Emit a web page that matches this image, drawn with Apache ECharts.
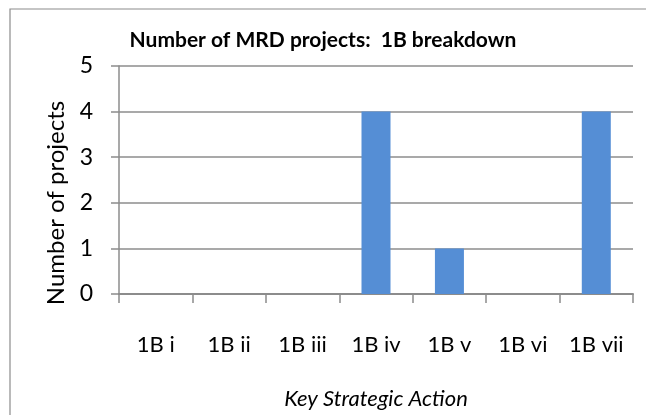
<!DOCTYPE html>
<html>
<head>
<meta charset="utf-8">
<script src="https://cdn.jsdelivr.net/npm/echarts@6/dist/echarts.min.js"></script>
<style>html,body{margin:0;padding:0;background:#fff}#c{width:646px;height:415px}</style>
</head>
<body>
<div id="c"></div>
<script>
var titleText = 'Number of MRD projects:  1B breakdown';
var categories = ['1B i', '1B ii', '1B iii', '1B iv', '1B v', '1B vi', '1B vii'];
var projectCounts = [0, 0, 0, 4, 1, 0, 4];
var yAxisName = 'Number of projects';
var xAxisName = 'Key Strategic Action';
var yMin = 0, yMax = 5, yStep = 1;

var font = 'Lato, "Open Sans", sans-serif';
var chart = echarts.init(document.getElementById('c'), null, {renderer: 'canvas'});
chart.setOption({
  animation: false,
  backgroundColor: '#fff',
  title: {
    text: titleText, left: 'center', top: 25,
    textStyle: {fontFamily: font, fontWeight: 'bold', fontSize: 21, color: '#000'}
  },
  graphic: [{
    type: 'rect', shape: {x: 10, y: 9, width: 700, height: 500},
    style: {fill: null, stroke: '#8c8c8c', lineWidth: 1.2}, silent: true, z: -1
  }],
  grid: {left: 119, right: 13, top: 66, bottom: 116, containLabel: false},
  xAxis: {
    type: 'category', data: categories,
    name: xAxisName, nameLocation: 'middle', nameGap: 94,
    nameTextStyle: {fontFamily: font, fontStyle: 'italic', fontSize: 22, color: '#000'},
    axisLine: {lineStyle: {color: '#8c8c8c', width: 2}},
    axisTick: {show: true, length: 9, lineStyle: {color: '#8c8c8c', width: 1.5}},
    axisLabel: {fontFamily: font, fontSize: 22, color: '#000', margin: 40}
  },
  yAxis: {
    type: 'value', min: yMin, max: yMax, interval: yStep,
    name: yAxisName, nameLocation: 'middle', nameGap: 49, nameRotate: 90,
    nameTextStyle: {fontFamily: font, fontSize: 24, color: '#000', padding: [0, 46, 0, 0]},
    axisLine: {show: true, lineStyle: {color: '#8c8c8c', width: 1.5}},
    axisTick: {show: true, length: 8, lineStyle: {color: '#8c8c8c', width: 1.5}},
    axisLabel: {fontFamily: font, fontSize: 23, color: '#000', margin: 26, padding: [3, 0, 0, 0]},
    splitLine: {show: true, lineStyle: {color: '#8c8c8c', width: 1.5}}
  },
  series: [{
    type: 'bar', data: projectCounts, barWidth: 29,
    itemStyle: {color: '#558ED5'}
  }]
});
</script>
</body>
</html>
